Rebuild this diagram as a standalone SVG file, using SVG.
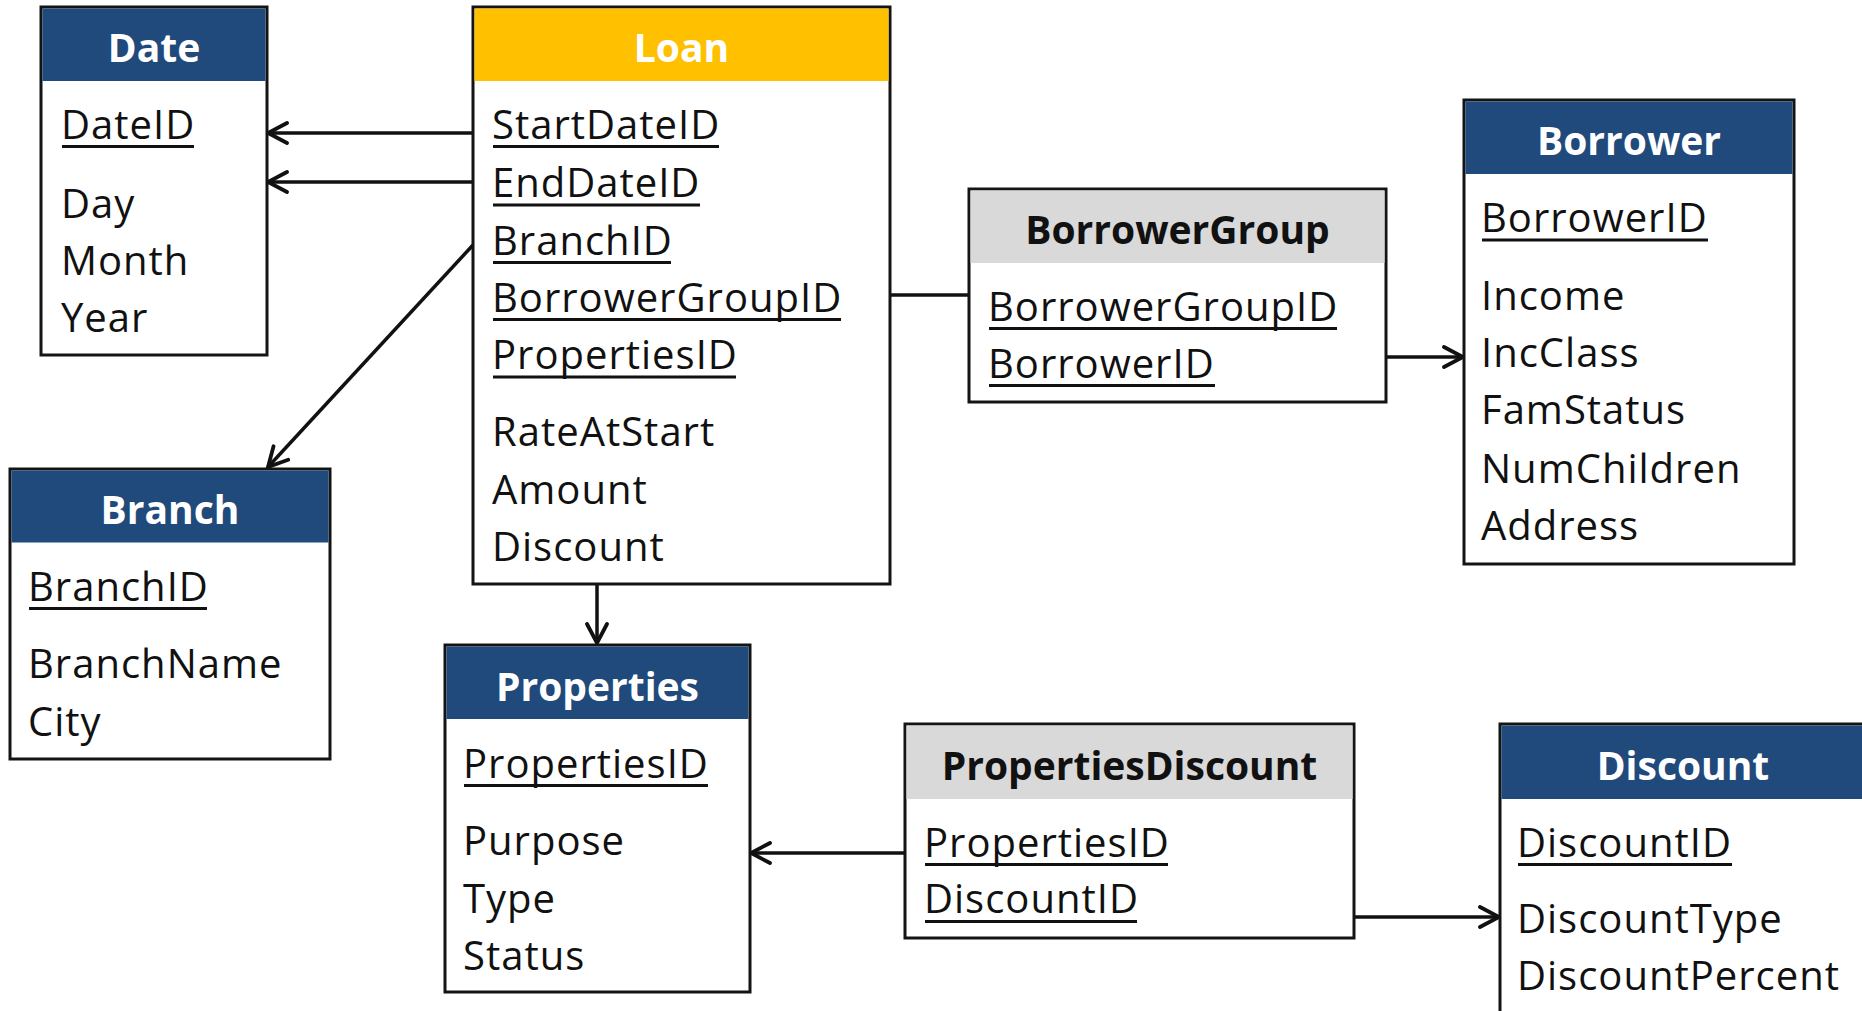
<svg xmlns="http://www.w3.org/2000/svg" width="1862" height="1011" viewBox="0 0 1862 1011">
  <style>
    .box { fill: #ffffff; stroke: #141414; stroke-width: 3; }
    .hdr-blue { fill: #214a7c; }
    .hdr-gold { fill: #ffc000; }
    .hdr-gray { fill: #d9d9d9; }
    .title { font-family: "Open Sans", "Noto Sans", sans-serif; font-size: 39px; font-weight: 700; text-anchor: middle; fill: #ffffff; }
    .title.dark { fill: #111111; }
    .field { font-family: "Open Sans", "Noto Sans", sans-serif; font-size: 40px; letter-spacing: 1px; fill: #111111; }
    .ul { stroke: #111111; stroke-width: 3; }
    .conn { fill: none; stroke: #111111; stroke-width: 3.5; }
  </style>
  <defs>
    <marker id="arrow" viewBox="-24 -14 28 28" markerWidth="28" markerHeight="28" refX="0" refY="0" orient="auto" markerUnits="userSpaceOnUse">
      <path d="M -19 -10 L 0 0 L -19 10" fill="none" stroke="#111111" stroke-width="3.8" stroke-linecap="round" stroke-linejoin="miter"/>
    </marker>
  </defs>

  <rect width="1862" height="1011" fill="#ffffff"/>

  <!-- Connectors -->
  <g id="connectors">
    <line class="conn" x1="473" y1="133" x2="268" y2="133" marker-end="url(#arrow)"/>
    <line class="conn" x1="473" y1="182" x2="268" y2="182" marker-end="url(#arrow)"/>
    <line class="conn" x1="473" y1="245" x2="268" y2="467" marker-end="url(#arrow)"/>
    <line class="conn" x1="890" y1="295" x2="969" y2="295"/>
    <line class="conn" x1="1386" y1="357" x2="1463" y2="357" marker-end="url(#arrow)"/>
    <line class="conn" x1="597" y1="584" x2="597" y2="643" marker-end="url(#arrow)"/>
    <line class="conn" x1="905" y1="853" x2="751" y2="853" marker-end="url(#arrow)"/>
    <line class="conn" x1="1354" y1="917" x2="1499" y2="917" marker-end="url(#arrow)"/>
  </g>

  <!-- Date -->
  <g id="date">
    <rect class="box" x="41" y="7" width="226" height="348"/>
    <rect class="hdr-blue" x="42.5" y="8.5" width="223" height="72.5"/>
    <text class="title" x="154" y="62">Date</text>
    <text class="field" x="61" y="139">DateID</text>
    <line class="ul" x1="62" y1="146.5" x2="194" y2="146.5"/>
    <text class="field" x="61" y="218">Day</text>
    <text class="field" x="61" y="275">Month</text>
    <text class="field" x="61" y="332">Year</text>
  </g>

  <!-- Loan -->
  <g id="loan">
    <rect class="box" x="473" y="7" width="417" height="577"/>
    <rect class="hdr-gold" x="474.5" y="8.5" width="414" height="72.5"/>
    <text class="title" x="681.5" y="62">Loan</text>
    <text class="field" x="492" y="138.5">StartDateID</text>
    <line class="ul" x1="493" y1="146.5" x2="719" y2="146.5"/>
    <text class="field" x="492" y="197">EndDateID</text>
    <line class="ul" x1="493" y1="205" x2="700" y2="205"/>
    <text class="field" x="492" y="254.5">BranchID</text>
    <line class="ul" x1="493" y1="262.5" x2="671" y2="262.5"/>
    <text class="field" x="492" y="312">BorrowerGroupID</text>
    <line class="ul" x1="493" y1="319.5" x2="841" y2="319.5"/>
    <text class="field" x="492" y="369">PropertiesID</text>
    <line class="ul" x1="493" y1="377" x2="736" y2="377"/>
    <text class="field" x="492" y="446">RateAtStart</text>
    <text class="field" x="492" y="504">Amount</text>
    <text class="field" x="492" y="561">Discount</text>
  </g>

  <!-- BorrowerGroup -->
  <g id="borrowergroup">
    <rect class="box" x="969" y="189" width="417" height="213"/>
    <rect class="hdr-gray" x="970.5" y="190.5" width="414" height="72.5"/>
    <text class="title dark" x="1177.5" y="243.5">BorrowerGroup</text>
    <text class="field" x="988" y="321">BorrowerGroupID</text>
    <line class="ul" x1="989" y1="328.5" x2="1337" y2="328.5"/>
    <text class="field" x="988" y="378">BorrowerID</text>
    <line class="ul" x1="989" y1="385.5" x2="1215" y2="385.5"/>
  </g>

  <!-- Borrower -->
  <g id="borrower">
    <rect class="box" x="1464" y="100" width="330" height="464"/>
    <rect class="hdr-blue" x="1465.5" y="101.5" width="327" height="72.5"/>
    <text class="title" x="1629" y="155">Borrower</text>
    <text class="field" x="1481" y="231.5">BorrowerID</text>
    <line class="ul" x1="1482" y1="240" x2="1708" y2="240"/>
    <text class="field" x="1481" y="310">Income</text>
    <text class="field" x="1481" y="367">IncClass</text>
    <text class="field" x="1481" y="424">FamStatus</text>
    <text class="field" x="1481" y="483">NumChildren</text>
    <text class="field" x="1481" y="540">Address</text>
  </g>

  <!-- Branch -->
  <g id="branch">
    <rect class="box" x="10" y="469" width="320" height="290"/>
    <rect class="hdr-blue" x="11.5" y="470.5" width="317" height="72"/>
    <text class="title" x="170" y="524">Branch</text>
    <text class="field" x="28" y="600.5">BranchID</text>
    <line class="ul" x1="29" y1="608.5" x2="207" y2="608.5"/>
    <text class="field" x="28" y="678">BranchName</text>
    <text class="field" x="28" y="736">City</text>
  </g>

  <!-- Properties -->
  <g id="properties">
    <rect class="box" x="445" y="645" width="305" height="347"/>
    <rect class="hdr-blue" x="446.5" y="646.5" width="302" height="72.5"/>
    <text class="title" x="597.5" y="700.5">Properties</text>
    <text class="field" x="463" y="778">PropertiesID</text>
    <line class="ul" x1="464" y1="785.5" x2="708" y2="785.5"/>
    <text class="field" x="463" y="855">Purpose</text>
    <text class="field" x="463" y="913">Type</text>
    <text class="field" x="463" y="969.5">Status</text>
  </g>

  <!-- PropertiesDiscount -->
  <g id="propertiesdiscount">
    <rect class="box" x="905" y="724" width="449" height="214"/>
    <rect class="hdr-gray" x="906.5" y="725.5" width="446" height="73.5"/>
    <text class="title dark" x="1129.5" y="779.5">PropertiesDiscount</text>
    <text class="field" x="924" y="857">PropertiesID</text>
    <line class="ul" x1="925" y1="864.5" x2="1168" y2="864.5"/>
    <text class="field" x="924" y="913">DiscountID</text>
    <line class="ul" x1="925" y1="921.5" x2="1137" y2="921.5"/>
  </g>

  <!-- Discount (runs past the right and bottom edges) -->
  <g id="discount">
    <rect class="box" x="1500" y="724" width="380" height="320"/>
    <rect class="hdr-blue" x="1501.5" y="725.5" width="377" height="73.5"/>
    <text class="title" x="1683" y="779.5">Discount</text>
    <text class="field" x="1517" y="857">DiscountID</text>
    <line class="ul" x1="1518" y1="864.5" x2="1732" y2="864.5"/>
    <text class="field" x="1517" y="933">DiscountType</text>
    <text class="field" x="1517" y="990">DiscountPercent</text>
  </g>
</svg>
